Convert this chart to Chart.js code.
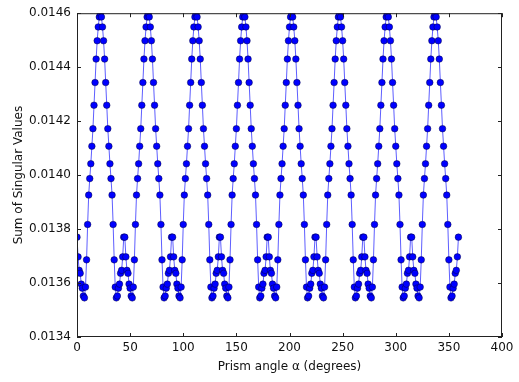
<!DOCTYPE html>
<html>
<head>
<meta charset="utf-8">
<script src="https://cdn.jsdelivr.net/npm/chart.js@4"></script>
<style>
  html, body { margin: 0; padding: 0; background: #fff; }
</style>
</head>
<body>
<canvas id="myChart" width="519" height="382"></canvas>
<script>
// prism angle in degrees, one sample per degree
const angles = Array.from({ length: 360 }, (_, i) => i);

// sum of singular values (one row per 45 degrees)
const sumSingular = [
  0.013770, 0.013697, 0.013647, 0.013636, 0.013596, 0.013581, 0.013552, 0.013545, 0.013585, 0.013686, 0.013817, 0.013926, 0.013987, 0.014042, 0.014107, 0.014172, 0.014259, 0.014343, 0.014430, 0.014498, 0.014549, 0.014586, 0.014598, 0.014586, 0.014549, 0.014498, 0.014430, 0.014343, 0.014259, 0.014172, 0.014107, 0.014042, 0.013987, 0.013926, 0.013817, 0.013686, 0.013585, 0.013545, 0.013552, 0.013581, 0.013596, 0.013636, 0.013647, 0.013697, 0.013770,
  0.013770, 0.013697, 0.013647, 0.013636, 0.013596, 0.013581, 0.013552, 0.013545, 0.013585, 0.013686, 0.013817, 0.013926, 0.013987, 0.014042, 0.014107, 0.014172, 0.014259, 0.014343, 0.014430, 0.014498, 0.014549, 0.014586, 0.014598, 0.014586, 0.014549, 0.014498, 0.014430, 0.014343, 0.014259, 0.014172, 0.014107, 0.014042, 0.013987, 0.013926, 0.013817, 0.013686, 0.013585, 0.013545, 0.013552, 0.013581, 0.013596, 0.013636, 0.013647, 0.013697, 0.013770,
  0.013770, 0.013697, 0.013647, 0.013636, 0.013596, 0.013581, 0.013552, 0.013545, 0.013585, 0.013686, 0.013817, 0.013926, 0.013987, 0.014042, 0.014107, 0.014172, 0.014259, 0.014343, 0.014430, 0.014498, 0.014549, 0.014586, 0.014598, 0.014586, 0.014549, 0.014498, 0.014430, 0.014343, 0.014259, 0.014172, 0.014107, 0.014042, 0.013987, 0.013926, 0.013817, 0.013686, 0.013585, 0.013545, 0.013552, 0.013581, 0.013596, 0.013636, 0.013647, 0.013697, 0.013770,
  0.013770, 0.013697, 0.013647, 0.013636, 0.013596, 0.013581, 0.013552, 0.013545, 0.013585, 0.013686, 0.013817, 0.013926, 0.013987, 0.014042, 0.014107, 0.014172, 0.014259, 0.014343, 0.014430, 0.014498, 0.014549, 0.014586, 0.014598, 0.014586, 0.014549, 0.014498, 0.014430, 0.014343, 0.014259, 0.014172, 0.014107, 0.014042, 0.013987, 0.013926, 0.013817, 0.013686, 0.013585, 0.013545, 0.013552, 0.013581, 0.013596, 0.013636, 0.013647, 0.013697, 0.013770,
  0.013770, 0.013697, 0.013647, 0.013636, 0.013596, 0.013581, 0.013552, 0.013545, 0.013585, 0.013686, 0.013817, 0.013926, 0.013987, 0.014042, 0.014107, 0.014172, 0.014259, 0.014343, 0.014430, 0.014498, 0.014549, 0.014586, 0.014598, 0.014586, 0.014549, 0.014498, 0.014430, 0.014343, 0.014259, 0.014172, 0.014107, 0.014042, 0.013987, 0.013926, 0.013817, 0.013686, 0.013585, 0.013545, 0.013552, 0.013581, 0.013596, 0.013636, 0.013647, 0.013697, 0.013770,
  0.013770, 0.013697, 0.013647, 0.013636, 0.013596, 0.013581, 0.013552, 0.013545, 0.013585, 0.013686, 0.013817, 0.013926, 0.013987, 0.014042, 0.014107, 0.014172, 0.014259, 0.014343, 0.014430, 0.014498, 0.014549, 0.014586, 0.014598, 0.014586, 0.014549, 0.014498, 0.014430, 0.014343, 0.014259, 0.014172, 0.014107, 0.014042, 0.013987, 0.013926, 0.013817, 0.013686, 0.013585, 0.013545, 0.013552, 0.013581, 0.013596, 0.013636, 0.013647, 0.013697, 0.013770,
  0.013770, 0.013697, 0.013647, 0.013636, 0.013596, 0.013581, 0.013552, 0.013545, 0.013585, 0.013686, 0.013817, 0.013926, 0.013987, 0.014042, 0.014107, 0.014172, 0.014259, 0.014343, 0.014430, 0.014498, 0.014549, 0.014586, 0.014598, 0.014586, 0.014549, 0.014498, 0.014430, 0.014343, 0.014259, 0.014172, 0.014107, 0.014042, 0.013987, 0.013926, 0.013817, 0.013686, 0.013585, 0.013545, 0.013552, 0.013581, 0.013596, 0.013636, 0.013647, 0.013697, 0.013770,
  0.013770, 0.013697, 0.013647, 0.013636, 0.013596, 0.013581, 0.013552, 0.013545, 0.013585, 0.013686, 0.013817, 0.013926, 0.013987, 0.014042, 0.014107, 0.014172, 0.014259, 0.014343, 0.014430, 0.014498, 0.014549, 0.014586, 0.014598, 0.014586, 0.014549, 0.014498, 0.014430, 0.014343, 0.014259, 0.014172, 0.014107, 0.014042, 0.013987, 0.013926, 0.013817, 0.013686, 0.013585, 0.013545, 0.013552, 0.013581, 0.013596, 0.013636, 0.013647, 0.013697, 0.013770
];

const xTicks = [0, 50, 100, 150, 200, 250, 300, 350, 400];
const yTicks = [0.0134, 0.0136, 0.0138, 0.0140, 0.0142, 0.0144, 0.0146];

// matplotlib-style box with inward ticks on all four sides
const frame = {
  id: 'frame',
  afterDatasetsDraw(chart) {
    const { ctx, chartArea: a, scales: { x, y } } = chart;
    const len = 4;
    ctx.save();
    ctx.strokeStyle = '#222';
    ctx.lineWidth = 1;
    ctx.strokeRect(a.left + 0.5, a.top + 0.5, a.right - a.left - 1, a.bottom - a.top - 1);
    ctx.beginPath();
    xTicks.forEach(v => {
      const px = Math.round(x.getPixelForValue(v)) + 0.5;
      ctx.moveTo(px, a.bottom); ctx.lineTo(px, a.bottom - len);
      ctx.moveTo(px, a.top); ctx.lineTo(px, a.top + len);
    });
    yTicks.forEach(v => {
      const py = Math.round(y.getPixelForValue(v)) + 0.5;
      ctx.moveTo(a.left, py); ctx.lineTo(a.left + len, py);
      ctx.moveTo(a.right, py); ctx.lineTo(a.right - len, py);
    });
    ctx.stroke();
    ctx.restore();
  }
};

const tickFont = { family: 'DejaVu Sans', size: 12 };

new Chart(document.getElementById('myChart'), {
  type: 'line',
  data: {
    datasets: [{
      data: angles.map((a, i) => ({ x: a, y: sumSingular[i] })),
      borderColor: 'rgba(40, 40, 255, 0.75)',
      borderWidth: 1,
      pointRadius: 3.3,
      pointBackgroundColor: '#0000ff',
      pointBorderColor: 'rgba(0, 0, 60, 0.8)',
      pointBorderWidth: 0.6,
      tension: 0,
      clip: 0
    }]
  },
  options: {
    responsive: false,
    devicePixelRatio: 1,
    animation: false,
    layout: { padding: { left: 0, right: 17, top: 6, bottom: 0 } },
    plugins: {
      legend: { display: false },
      tooltip: { enabled: false }
    },
    scales: {
      x: {
        type: 'linear',
        min: 0,
        max: 400,
        afterBuildTicks: s => { s.ticks = xTicks.map(v => ({ value: v })); },
        afterFit: s => { s.height = 45; },
        grid: { display: false, drawTicks: false },
        border: { display: false },
        ticks: { font: tickFont, color: '#111', padding: 4, maxRotation: 0 },
        title: {
          display: true,
          text: 'Prism angle α (degrees)',
          font: tickFont,
          color: '#111',
          padding: { top: 0, bottom: 8 }
        }
      },
      y: {
        type: 'linear',
        min: 0.0134,
        max: 0.0146,
        afterBuildTicks: s => { s.ticks = yTicks.map(v => ({ value: v })); },
        afterFit: s => { s.width = 77; },
        grid: { display: false, drawTicks: false },
        border: { display: false },
        ticks: {
          font: tickFont,
          color: '#111',
          padding: 6,
          callback: v => v.toFixed(4)
        },
        title: {
          display: true,
          text: 'Sum of Singular Values',
          font: tickFont,
          color: '#111',
          padding: { top: 12, bottom: 0 }
        }
      }
    }
  },
  plugins: [frame]
});
</script>
</body>
</html>
